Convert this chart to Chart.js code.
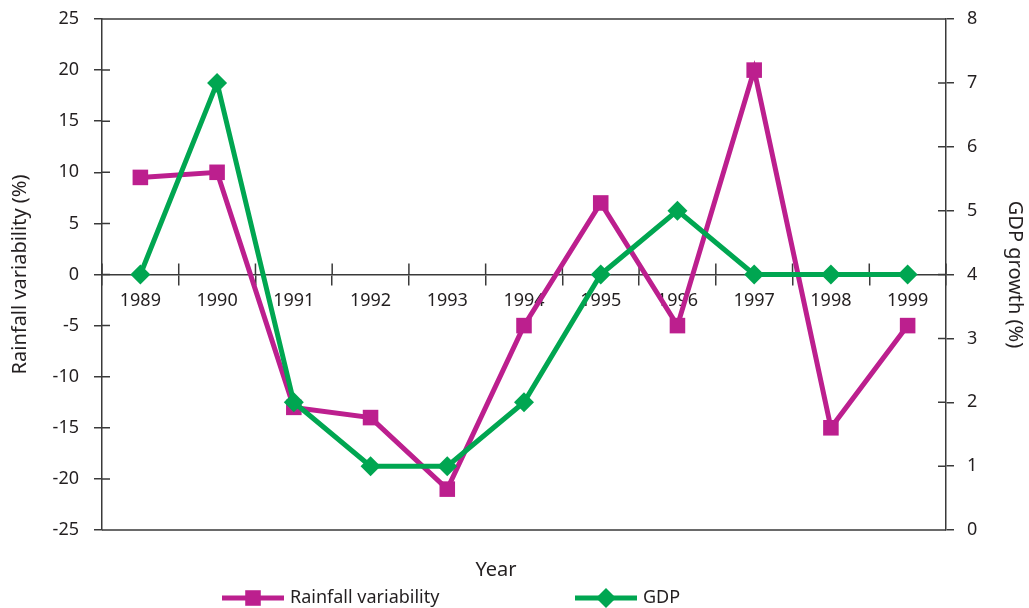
<!DOCTYPE html>
<html>
<head>
<meta charset="utf-8">
<script src="https://cdn.jsdelivr.net/npm/chart.js@4"></script>
<style>
  body { margin: 0; background: #fff; }
  #wrap { width: 1029px; height: 608px; }
</style>
</head>
<body>
<div id="wrap"><canvas id="rainChart"></canvas></div>
<script>
const years = ['1989', '1990', '1991', '1992', '1993', '1994', '1995', '1996', '1997', '1998', '1999'];
const rainfall = [9.5, 10, -13, -14, -21, -5, 7, -5, 20, -15, -5];
const gdp = [4, 7, 2, 1, 1, 2, 4, 5, 4, 4, 4];
const seriesNames = ['Rainfall variability', 'GDP'];
const rainTicks = [-25, 25, 5];
const gdpTicks = [0, 8, 1];

const MAGENTA = '#bc1f8e';
const GREEN = '#00a651';
const AXIS = '#3a3a3a';
const TEXT = '#231f20';
const FONT = "'Noto Sans', sans-serif";

// ticks that cross the axes, plus top and bottom frame lines
const crossTicks = {
    id: 'crossTicks',
    beforeDatasetsDraw(chart) {
        const { ctx, chartArea: a, scales } = chart;
        ctx.save();
        ctx.strokeStyle = AXIS;
        ctx.lineWidth = 1.5;
        ctx.beginPath();
        ctx.moveTo(a.left, a.top); ctx.lineTo(a.right, a.top);
        ctx.moveTo(a.left, a.bottom); ctx.lineTo(a.right, a.bottom);
        scales.y.ticks.forEach(t => {
            const y = scales.y.getPixelForValue(t.value);
            ctx.moveTo(a.left, y); ctx.lineTo(a.left + 8, y);
        });
        scales.y1.ticks.forEach(t => {
            const y = scales.y1.getPixelForValue(t.value);
            ctx.moveTo(a.right - 8, y); ctx.lineTo(a.right, y);
        });
        const xs = scales.x;
        const step = xs.getPixelForValue(1) - xs.getPixelForValue(0);
        const y0 = scales.y.getPixelForValue(0);
        for (let i = 0; i <= years.length; i++) {
            const x = xs.getPixelForValue(i) - step / 2;
            ctx.moveTo(x, y0); ctx.lineTo(x, y0 - 11);
        }
        ctx.stroke();
        ctx.restore();
    }
};

// "Year" caption and a legend with line + marker swatches
const bottomLegend = {
    id: 'bottomLegend',
    afterDraw(chart, args, opts) {
        const { ctx } = chart;
        ctx.save();
        ctx.fillStyle = TEXT;
        ctx.textBaseline = 'middle';
        ctx.textAlign = 'center';
        ctx.font = '20px ' + FONT;
        ctx.fillText(opts.caption, opts.captionX, opts.captionY);
        ctx.textAlign = 'left';
        ctx.font = '18px ' + FONT;
        chart.data.datasets.forEach((ds, i) => {
            const x = opts.itemX[i];
            const y = opts.rowY;
            ctx.strokeStyle = ds.borderColor;
            ctx.lineWidth = ds.borderWidth;
            ctx.beginPath();
            ctx.moveTo(x, y); ctx.lineTo(x + opts.swatch, y);
            ctx.stroke();
            ctx.fillStyle = ds.backgroundColor;
            Chart.helpers.drawPoint(ctx, { pointStyle: ds.pointStyle, radius: ds.pointRadius, rotation: 0, borderWidth: 0 }, x + opts.swatch / 2, y);
            ctx.fillStyle = TEXT;
            ctx.fillText(ds.label, x + opts.swatch + 6, y);
        });
        ctx.restore();
    }
};

new Chart(document.getElementById('rainChart'), {
    type: 'line',
    data: {
        labels: years,
        datasets: [
            {
                label: seriesNames[0],
                data: rainfall,
                yAxisID: 'y',
                borderColor: MAGENTA,
                backgroundColor: MAGENTA,
                borderWidth: 5,
                pointStyle: 'rect',
                pointRadius: 11,
                pointBorderWidth: 0,
                tension: 0,
                order: 2
            },
            {
                label: seriesNames[1],
                data: gdp,
                yAxisID: 'y1',
                borderColor: GREEN,
                backgroundColor: GREEN,
                borderWidth: 5,
                pointStyle: 'rectRot',
                pointRadius: 10,
                pointBorderWidth: 0,
                tension: 0,
                order: 1
            }
        ]
    },
    options: {
        responsive: true,
        maintainAspectRatio: false,
        animation: false,
        layout: { padding: { left: 0, right: 0, top: 19, bottom: 78 } },
        plugins: {
            legend: { display: false },
            tooltip: { enabled: false },
            bottomLegend: { caption: 'Year', captionX: 496, captionY: 570, itemX: [222, 575], rowY: 598, swatch: 62 }
        },
        scales: {
            x: {
                type: 'category',
                position: { y: 0 },
                offset: true,
                grid: { drawOnChartArea: false, tickLength: 10, color: AXIS, lineWidth: 1.5, offset: true },
                border: { color: AXIS, width: 1.5 },
                ticks: { color: TEXT, font: { family: FONT, size: 18 }, padding: 6, maxRotation: 0 }
            },
            y: {
                position: 'left',
                min: rainTicks[0],
                max: rainTicks[1],
                afterFit: s => { s.width = 102; s.paddingTop = 0; s.paddingBottom = 0; },
                grid: { drawOnChartArea: false, tickLength: 8, color: AXIS, lineWidth: 1.5 },
                border: { color: AXIS, width: 1.5 },
                ticks: { stepSize: rainTicks[2], color: TEXT, font: { family: FONT, size: 18 }, padding: 15 },
                title: { display: true, text: 'Rainfall variability (%)', color: TEXT, font: { family: FONT, size: 20 }, padding: { top: 8, bottom: 0 } }
            },
            y1: {
                position: 'right',
                min: gdpTicks[0],
                max: gdpTicks[1],
                afterFit: s => { s.width = 83; s.paddingTop = 0; s.paddingBottom = 0; },
                grid: { drawOnChartArea: false, tickLength: 8, color: AXIS, lineWidth: 1.5 },
                border: { color: AXIS, width: 1.5 },
                ticks: { stepSize: gdpTicks[2], color: TEXT, font: { family: FONT, size: 18 }, padding: 13 },
                title: { display: true, text: 'GDP growth (%)', color: TEXT, font: { family: FONT, size: 20 }, padding: { top: 2, bottom: 0 } }
            }
        }
    },
    plugins: [crossTicks, bottomLegend]
});
</script>
</body>
</html>
